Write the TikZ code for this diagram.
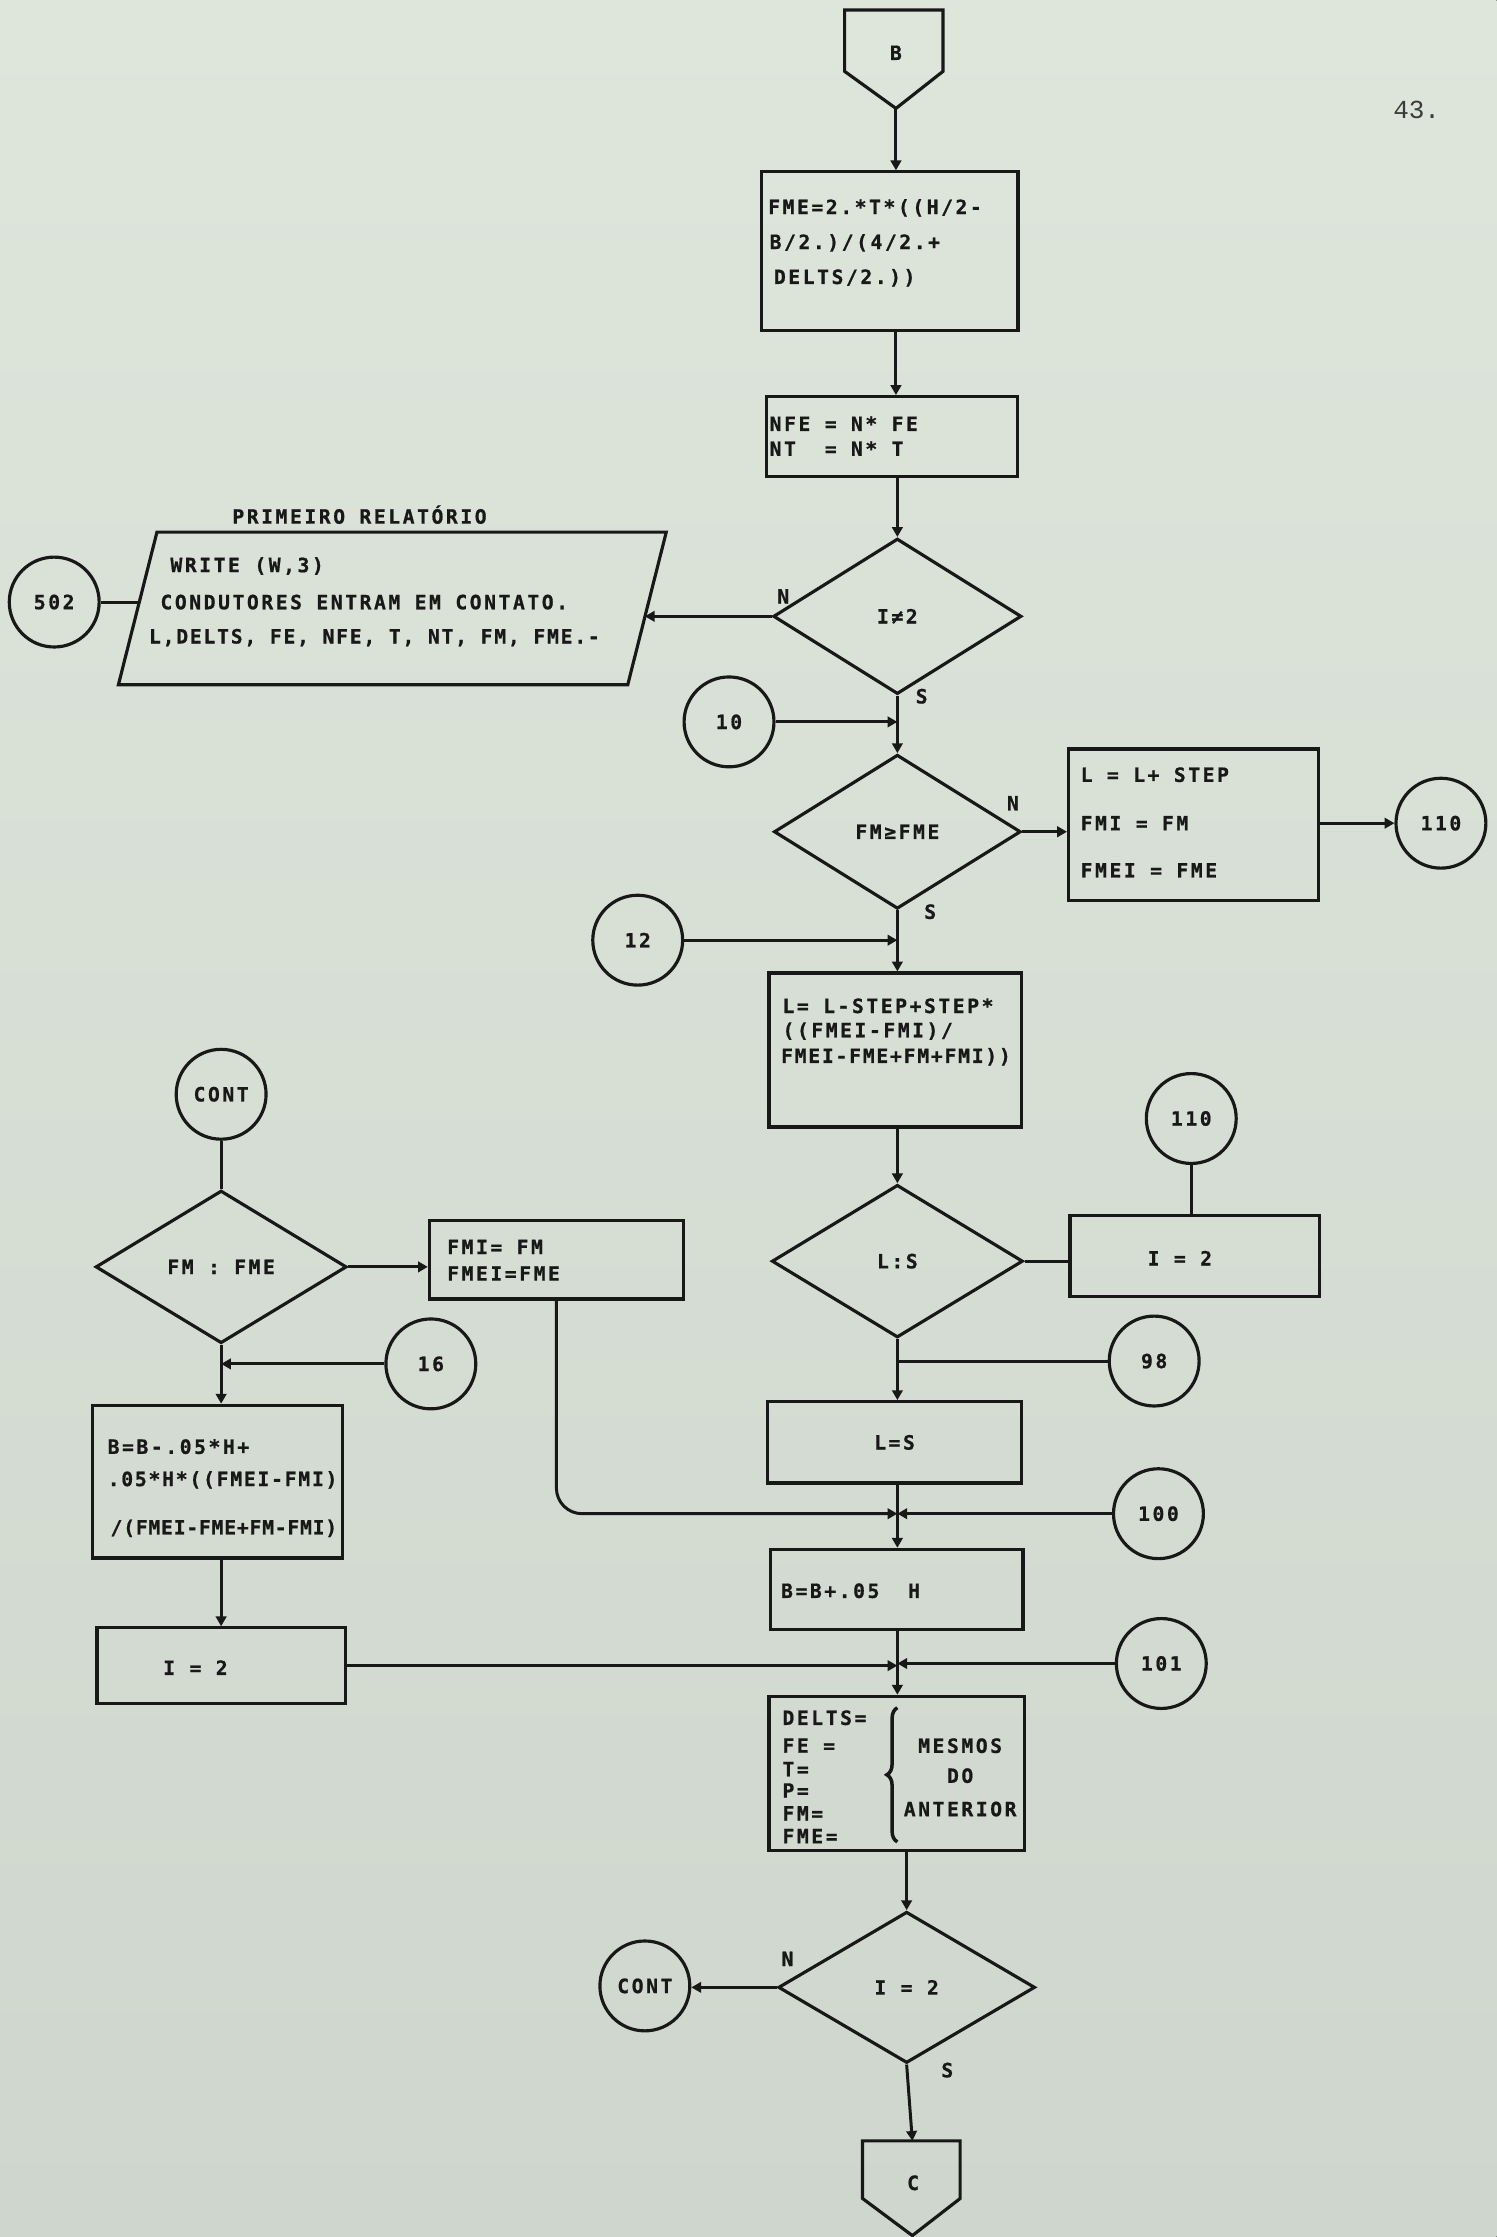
\documentclass[tikz,border=0pt]{standalone}
\usepackage{fontspec}
\setmainfont{DejaVu Sans Mono}[LetterSpace=13, BoldFeatures={FakeBold=0.8}]
\newfontfamily\midfont{DejaVu Sans Mono}[LetterSpace=9, BoldFeatures={FakeBold=0.8}]
\newfontfamily\tightfont{DejaVu Sans Mono}[LetterSpace=4, BoldFeatures={FakeBold=0.8}]
\newfontfamily\pagefont{Liberation Mono}
\usetikzlibrary{arrows.meta,shapes.geometric,decorations.pathreplacing}
\newlength\pxu
\setlength\pxu{0.014262cm}
\definecolor{ink}{RGB}{24,24,24}
\definecolor{bgtop}{RGB}{222,229,219}
\definecolor{bgbot}{RGB}{207,214,205}
\newcommand\lfont{\fontsize{5.6}{6.4}\selectfont\bfseries}
\begin{document}
\begin{tikzpicture}[x=0.014262cm, y=-0.014262cm,
  box/.style={draw=ink, line width=0.9pt, rectangle, inner sep=0pt},
  dia/.style={draw=ink, line width=0.9pt, diamond, inner sep=0pt, font=\lfont, text=ink},
  conn/.style={draw=ink, line width=0.9pt, circle, inner sep=0pt, minimum size=63\pxu, font=\lfont, text=ink},
  txt/.style={font=\lfont, text=ink, inner sep=0pt, text height=4.1pt, text depth=0pt},
  lt/.style={txt, anchor=west},
  arr/.style={draw=ink, line width=0.85pt, -{Triangle[length=2.8pt,width=3pt]}},
  ln/.style={draw=ink, line width=0.85pt},
  outline/.style={draw=ink, line width=0.9pt, line join=miter}
]
% background and bounds
\fill[top color=bgtop, bottom color=bgbot] (0,0) rectangle (1049,1568);
\useasboundingbox (0,0) rectangle (1049,1568);

% page number
\node[font=\pagefont\fontsize{7.4}{8}\selectfont, text=ink!85, inner sep=0pt] (pg) at (993,77) {43.};

% top off-page connector B
\draw[outline] (592,7) -- (661,7) -- (661,50) -- (628,76) -- (592,50) -- cycle;
\node[txt] (pB) at (628,37) {B};
\coordinate (pBtip) at (628,76);

% box 1
\node[box, minimum width=180\pxu, minimum height=111\pxu] (box1) at (623.5,176) {};
\node[lt] (b1a) at (538,145) {FME=2.*T*((H/2-};
\node[lt] (b1b) at (539,169.5) {B/2.)/(4/2.+};
\node[lt] (b1c) at (542,194) {DELTS/2.))};

% box 2
\node[box, minimum width=176\pxu, minimum height=56\pxu] (box2) at (625,306) {};
\node[lt] (b2a) at (539,297) {NFE = N* FE};
\node[lt] (b2b) at (539,314.5) {NT~~= N* T};

% decision I != 2
\node[dia, minimum width=174\pxu, minimum height=109\pxu] (d1) at (629,432) {I≠2};
\node[txt] (n1) at (549,418) {N};
\node[txt] (s1) at (646,488) {S};

% report parallelogram
\node[txt] (rel) at (252,362) {PRIMEIRO RELATÓRIO};
\draw[outline] (110,373) -- (467,373) -- (440,480) -- (83,480) -- cycle;
\coordinate (paraR) at (452,432);
\coordinate (paraL) at (97.6,422);
\node[lt] (w1) at (119,396) {WRITE (W,3)};
\node[lt] (w2) at (112,422) {CONDUTORES~ENTRAM~EM~CONTATO.};
\node[lt] (w3) at (104,446) {\midfont L,DELTS, FE, NFE, T, NT, FM, FME.-};
\node[conn] (c502) at (38,422) {502};

% connector 10
\node[conn] (c10) at (511,506) {10};

% decision FM >= FME
\node[dia, minimum width=173\pxu, minimum height=108\pxu] (d2) at (629,583) {FM≥FME};
\node[txt] (n2) at (710,563) {N};
\node[txt] (s2) at (652,639) {S};

% box 3
\node[box, minimum width=175\pxu, minimum height=106\pxu] (box3) at (836.5,578) {};
\node[lt] (b3a) at (757,543) {L = L+ STEP};
\node[lt] (b3b) at (757,577) {FMI = FM};
\node[lt] (b3c) at (757,610) {FMEI = FME};
\node[conn] (c110a) at (1010,577) {110};

% connector 12
\node[conn] (c12) at (447,659) {12};

% box 4
\node[box, minimum width=177\pxu, minimum height=108\pxu] (box4) at (627.5,736) {};
\node[lt] (b4a) at (548,705) {L= L-STEP+STEP*};
\node[lt] (b4b) at (548,722) {((FMEI-FMI)/};
\node[lt] (b4c) at (547,740) {\midfont FMEI-FME+FM+FMI))};

% decision L:S
\node[dia, minimum width=176\pxu, minimum height=107\pxu] (d3) at (629,884) {L:S};

% box 5
\node[box, minimum width=175\pxu, minimum height=57\pxu] (box5) at (837.5,880.5) {};
\node[txt] (b5) at (827,882) {I = 2};
\node[conn] (c110b) at (835,784) {110};
\node[conn] (c98) at (809,954) {98};

% box 6
\node[box, minimum width=178\pxu, minimum height=57\pxu] (box6) at (627,1011) {};
\node[txt] (b6) at (627,1011) {L=S};
\node[conn] (c100) at (812,1061) {100};

% box 7
\node[box, minimum width=177\pxu, minimum height=56\pxu] (box7) at (628.5,1114) {};
\node[lt] (b7) at (547,1115) {B=B+.05~~H};
\node[conn] (c101) at (814,1166) {101};

% box 8
\node[box, minimum width=179\pxu, minimum height=108\pxu] (box8) at (628.5,1243) {};
\node[lt] (b8a) at (548,1204) {DELTS=};
\node[lt] (b8b) at (548,1223.5) {FE =};
\node[lt] (b8c) at (548,1240) {T=};
\node[lt] (b8d) at (548,1255) {P=};
\node[lt] (b8e) at (548,1271) {FM=};
\node[lt] (b8f) at (548,1287) {FME=};
\draw[draw=ink, line width=1pt, decorate, decoration={brace, amplitude=3pt}] (629,1291) -- (629,1197);
\node[txt] (m1) at (673,1223.6) {MESMOS};
\node[txt] (m2) at (673,1244.6) {DO};
\node[txt] (m3) at (673,1268) {ANTERIOR};

% decision I = 2
\node[dia, minimum width=180\pxu, minimum height=106\pxu] (d4) at (635.5,1393) {I = 2};
\node[txt] (n4) at (552,1373) {N};
\node[txt] (s4) at (664,1451) {S};
\node[conn] (cont2) at (452,1392) {CONT};

% bottom off-page connector C
\draw[outline] (604.6,1500.6) -- (673,1500.6) -- (673,1541) -- (639.5,1567) -- (604.6,1541) -- cycle;
\node[txt] (pC) at (640,1530) {C};
\coordinate (pCtop) at (639.5,1500.6);

% left column
\node[conn] (cont1) at (155,767) {CONT};
\node[dia, minimum width=176\pxu, minimum height=107\pxu] (d5) at (155,888) {FM : FME};
\node[box, minimum width=178\pxu, minimum height=55\pxu] (box9) at (390,883) {};
\node[lt] (b9a) at (313,874) {FMI= FM};
\node[lt] (b9b) at (313,892.6) {FMEI=FME};
\node[conn] (c16) at (302,956) {16};
\node[box, minimum width=175\pxu, minimum height=107\pxu] (box10) at (152.5,1038.5) {};
\node[lt] (b10a) at (75,1014) {B=B-.05*H+};
\node[lt] (b10b) at (75,1036.6) {\midfont .05*H*((FMEI-FMI)};
\node[lt] (b10c) at (77,1070.5) {\tightfont /(FMEI-FME+FM-FMI)};
\node[box, minimum width=174\pxu, minimum height=53\pxu] (box11) at (155,1167.5) {};
\node[txt] (b11) at (137,1169) {I = 2};

% connectors, main column
\draw[arr] (pBtip) -- (pBtip |- box1.north);
\draw[arr] (box1.south -| pBtip) -- (box2.north -| pBtip);
\draw[arr] (box2.south -| d1.north) -- (d1.north);
\draw[arr] (d1.west) -- (paraR);
\draw[ln] (c502.east) -- (paraL);
\draw[arr] (c10.east) -- (c10.east -| d1.south);
\draw[arr] (d1.south) -- (d2.north);
\draw[arr] (d2.east) -- (d2.east -| box3.west);
\draw[arr] (box3.east |- c110a.west) -- (c110a.west);
\draw[arr] (c12.east) -- (c12.east -| d2.south);
\draw[arr] (d2.south) -- (d2.south |- box4.north);
\draw[arr] (box4.south -| d3.north) -- (d3.north);
\draw[ln] (d3.east) -- (d3.east -| box5.west);
\draw[ln] (c110b.south) -- (c110b.south |- box5.north);
\draw[ln] (c98.west) -- (c98.west -| d3.south);
\draw[arr] (d3.south) -- (d3.south |- box6.north);
\draw[arr] (box6.south -| d3.south) -- (box7.north -| d3.south);
\draw[arr] (c100.west) -- (c100.west -| d3.south);
\draw[arr, rounded corners=18\pxu] (box9.south) -- (box9.south |- c100.west) -- (c100.west -| d3.south);
\draw[arr] (box7.south -| d3.south) -- (box8.north -| d3.south);
\draw[arr] (c101.west) -- (c101.west -| d3.south);
\draw[arr] (box11.east) -- (box11.east -| d3.south);
\draw[arr] (box8.south -| d4.north) -- (d4.north);
\draw[arr] (d4.west) -- (d4.west -| cont2.east);
\draw[arr] (d4.south) -- (pCtop);
% connectors, left column
\draw[ln] (cont1.south) -- (d5.north);
\draw[arr] (d5.east) -- (d5.east -| box9.west);
\draw[arr] (c16.west) -- (c16.west -| d5.south);
\draw[arr] (d5.south) -- (d5.south |- box10.north);
\draw[arr] (box10.south -| box11.north) -- (box11.north);
\end{tikzpicture}
\end{document}
